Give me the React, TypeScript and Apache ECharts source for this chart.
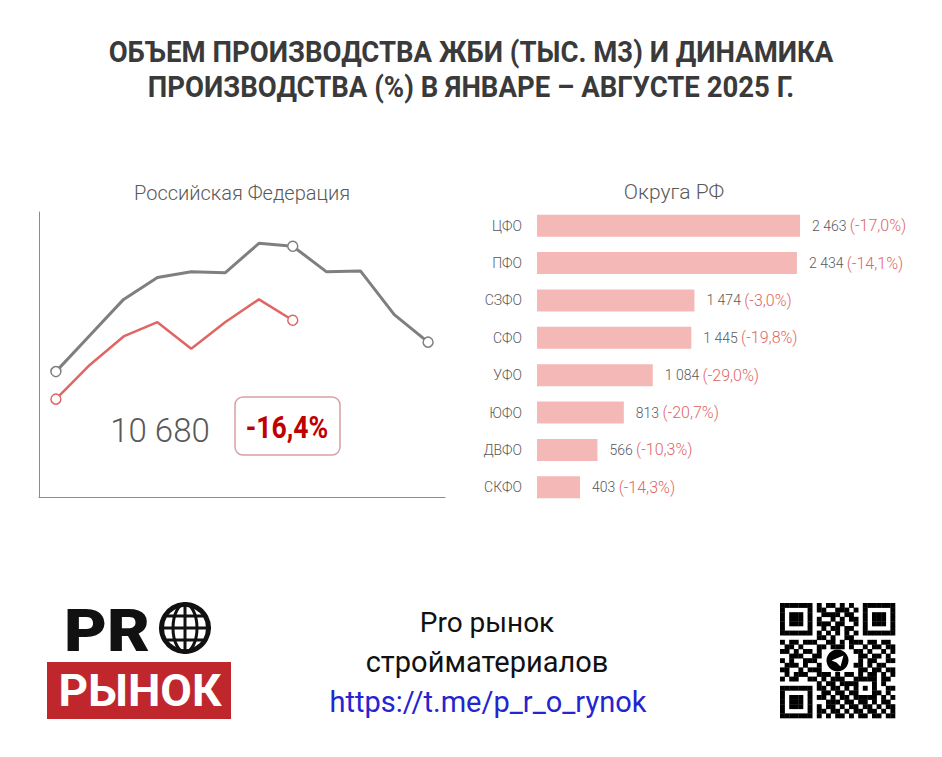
import React, { useEffect, useRef } from "react";
import * as echarts from "echarts";

const months = ["Янв", "Фев", "Мар", "Апр", "Май", "Июн", "Июл", "Авг", "Сен", "Окт", "Ноя", "Дек"];
const prod2024 = [1160, 1350, 1540, 1655, 1685, 1680, 1835, 1820, 1685, 1690, 1460, 1315];
const prod2025 = [1015, 1195, 1345, 1420, 1280, 1420, 1540, 1430];
const districts = ["ЦФО", "ПФО", "СЗФО", "СФО", "УФО", "ЮФО", "ДВФО", "СКФО"];
const districtValues = [2463, 2434, 1474, 1445, 1084, 813, 566, 403];
const districtChange = [-17.0, -14.1, -3.0, -19.8, -29.0, -20.7, -10.3, -14.3];
const totalValue = 10680;
const totalChange = -16.4;
const titleLines = ["ОБЪЕМ ПРОИЗВОДСТВА ЖБИ (ТЫС. М3) И ДИНАМИКА", "ПРОИЗВОДСТВА (%) В ЯНВАРЕ – АВГУСТЕ 2025 Г."];

const QR = [
  "1111111010110101001111111",
  "1000001011001110101000001",
  "1011101001111011001011101",
  "1011101010010101101011101",
  "1011101011101100101011101",
  "1000001001011011001000001",
  "1111111010101010101111111",
  "0000000011010011000000000",
  "1011011100110101110110110",
  "0110100011011101001011011",
  "1101011010000000110100101",
  "0011100110000000011011010",
  "1010011100000000010110011",
  "0111010010000000110101100",
  "1100101110000000011011011",
  "0101110011101011010110101",
  "1011001101011100111110110",
  "0000000010110111100010100",
  "1111111011011010101010011",
  "1000001001101101100011010",
  "1011101011010110111110101",
  "1011101000111011011010110",
  "1011101010110101101101011",
  "1000001011011010110110101",
  "1111111010101101011011011",
];

const fmtNum = (n: number) => String(n).replace(/\B(?=(\d{3})+(?!\d))/g, " ");
const fmtPct = (p: number) => (p > 0 ? "+" : "") + p.toFixed(1).replace(".", ",") + "%";

const GRAY = "#7f7f7f";
const RED = "#e06666";
const FONT = "Roboto";

function markerData(vals: number[], marks: number[], color: string) {
  return vals.map((v, i) =>
    marks.includes(i)
      ? { value: v, symbol: "circle", symbolSize: 10, itemStyle: { color: "#fff", borderColor: color, borderWidth: 1.5 } }
      : { value: v, symbol: "none" }
  );
}

export default function App() {
  const ref = useRef<HTMLDivElement>(null);
  useEffect(() => {
    document.body.style.margin = "0";
    const chart = echarts.init(ref.current!, null, { renderer: "svg" });

    const qrElems: any[] = [];
    const qx = 780, qy = 603, ms = 4.6;
    QR.forEach((row, r) => {
      for (let c = 0; c < row.length; c++) {
        if (row[c] === "1") {
          qrElems.push({ type: "rect", shape: { x: qx + c * ms, y: qy + r * ms, width: ms + 0.3, height: ms + 0.3 }, style: { fill: "#000" } });
        }
      }
    });
    const qc = qx + 12.5 * ms, qcy = qy + 12.5 * ms;
    qrElems.push({ type: "circle", shape: { cx: qc, cy: qcy, r: 11 }, style: { fill: "#000" } });
    qrElems.push({
      type: "polygon",
      shape: { points: [[qc - 6, qcy], [qc + 6, qcy - 5], [qc + 3, qcy + 6], [qc - 1, qcy + 2]] },
      style: { fill: "#fff" },
    });

    const gx = 185, gy = 628, gr = 26;
    const blk = { stroke: "#111", lineWidth: 3, fill: "none" };
    const globe: any[] = [
      { type: "circle", shape: { cx: gx, cy: gy, r: gr - 2.5 }, style: { fill: "#fff", stroke: "#111", lineWidth: 5 } },
      { type: "ellipse", shape: { cx: gx, cy: gy, rx: 12, ry: gr - 2 }, style: blk },
      { type: "line", shape: { x1: gx, y1: gy - gr, x2: gx, y2: gy + gr }, style: blk },
      { type: "line", shape: { x1: gx - gr, y1: gy, x2: gx + gr, y2: gy }, style: blk },
      { type: "line", shape: { x1: gx - 21, y1: gy - 12, x2: gx + 21, y2: gy - 12 }, style: blk },
      { type: "line", shape: { x1: gx - 21, y1: gy + 12, x2: gx + 21, y2: gy + 12 }, style: blk },
    ];

    const option: any = {
      animation: false,
      backgroundColor: "#fff",
      grid: [
        { left: 39, top: 212, width: 406, height: 285 },
        { left: 537, top: 207, width: 320.4, height: 299 },
      ],
      xAxis: [
        {
          gridIndex: 0, type: "category", data: months, boundaryGap: true,
          axisLine: { onZero: false, lineStyle: { color: "#8c8c8c", width: 1 } },
          axisTick: { show: false }, axisLabel: { show: false }, splitLine: { show: false },
        },
        { gridIndex: 1, type: "value", min: 0, max: 3000, show: false, splitLine: { show: false } },
      ],
      yAxis: [
        {
          gridIndex: 0, type: "value", min: 500, max: 2000,
          axisLine: { show: true, lineStyle: { color: "#8c8c8c", width: 1 } },
          axisTick: { show: false }, axisLabel: { show: false }, splitLine: { show: false },
        },
        {
          gridIndex: 1, type: "category", data: districts, inverse: true,
          axisLine: { show: false }, axisTick: { show: false }, splitLine: { show: false },
          axisLabel: { color: "#595959", fontSize: 14, fontWeight: 300, margin: 15, fontFamily: FONT },
        },
      ],
      series: [
        {
          type: "line", xAxisIndex: 0, yAxisIndex: 0, name: "2024",
          data: markerData(prod2024, [0, 7, prod2024.length - 1], GRAY),
          lineStyle: { color: GRAY, width: 3 }, itemStyle: { color: GRAY }, z: 3,
        },
        {
          type: "line", xAxisIndex: 0, yAxisIndex: 0, name: "2025",
          data: markerData(prod2025, [0, prod2025.length - 1], RED),
          lineStyle: { color: RED, width: 2.5 }, itemStyle: { color: RED }, z: 4,
        },
        {
          type: "bar", xAxisIndex: 1, yAxisIndex: 1, barWidth: 22,
          data: districtValues,
          itemStyle: { color: "#f4b9b7" },
          label: {
            show: true, position: "right", distance: 12,
            formatter: (p: any) => `{v|${fmtNum(p.value)}} {p|(${fmtPct(districtChange[p.dataIndex])})}`,
            rich: {
              v: { fontSize: 14, color: "#595959", fontFamily: FONT, fontWeight: 300 },
              p: { fontSize: 16, color: RED, fontFamily: FONT, fontWeight: 300 },
            },
          },
        },
      ],
      graphic: [
        ...titleLines.map((t, i) => ({
          type: "text", x: 471, y: 52 + i * 35, scaleX: 0.95,
          style: { text: t, fill: "#3a3a3a", font: `bold 29px ${FONT}`, textAlign: "center", textVerticalAlign: "middle" },
        })),
        { type: "text", x: 242, y: 193, style: { text: "Российская Федерация", fill: "#595959", font: `300 20px ${FONT}`, textAlign: "center", textVerticalAlign: "middle" } },
        { type: "text", x: 674, y: 192, style: { text: "Округа РФ", fill: "#595959", font: `300 21px ${FONT}`, textAlign: "center", textVerticalAlign: "middle" } },
        { type: "text", x: 160, y: 430, style: { text: fmtNum(totalValue), fill: "#595959", font: `300 33px ${FONT}`, textAlign: "center", textVerticalAlign: "middle" } },
        { type: "rect", shape: { x: 235, y: 397, width: 105, height: 58, r: 8 }, style: { fill: "none", stroke: "#d9a0a0", lineWidth: 1.5 } },
        { type: "text", x: 287, y: 427, scaleX: 0.86, style: { text: fmtPct(totalChange), fill: "#c00000", font: `bold 31px ${FONT}`, textAlign: "center", textVerticalAlign: "middle" } },
        // logo
        { type: "text", x: 64, y: 630, scaleX: 1.1, style: { text: "PR", fill: "#111", font: `900 60px ${FONT}`, textAlign: "left", textVerticalAlign: "middle" } },
        ...globe,
        { type: "rect", shape: { x: 47, y: 662, width: 184, height: 57 }, style: { fill: "#c0272d" } },
        { type: "text", x: 140, y: 691, scaleX: 1.02, style: { text: "РЫНОК", fill: "#fff", font: `bold 45px ${FONT}`, textAlign: "center", textVerticalAlign: "middle" } },
        // center text
        { type: "text", x: 487, y: 622, style: { text: "Pro рынок", fill: "#111", font: `28px ${FONT}`, textAlign: "center", textVerticalAlign: "middle" } },
        { type: "text", x: 487, y: 662, style: { text: "стройматериалов", fill: "#111", font: `29px ${FONT}`, textAlign: "center", textVerticalAlign: "middle" } },
        { type: "text", x: 488, y: 702, style: { text: "https://t.me/p_r_o_rynok", fill: "#2424d0", font: `29px ${FONT}`, textAlign: "center", textVerticalAlign: "middle" } },
        ...qrElems,
      ],
    };
    chart.setOption(option);
    return () => chart.dispose();
  }, []);
  return <div ref={ref} style={{ position: "absolute", left: 0, top: 0, width: 942, height: 757 }} />;
}
